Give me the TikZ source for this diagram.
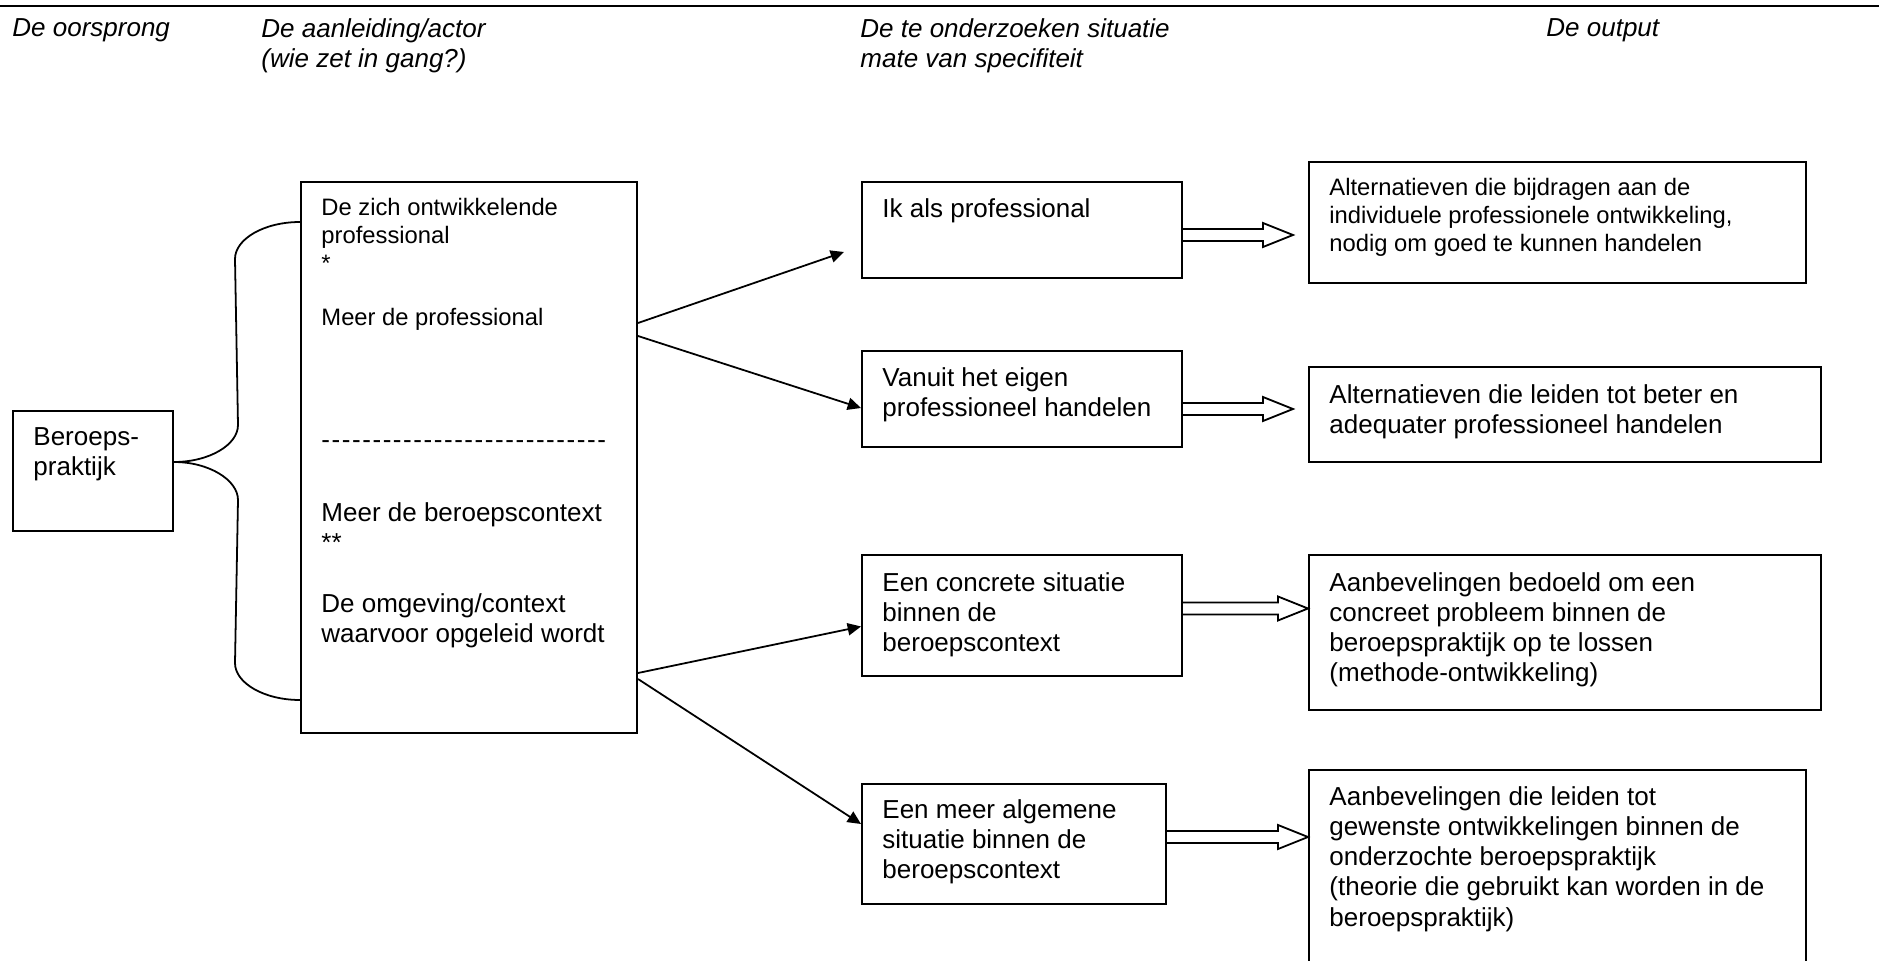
\documentclass[tikz,border=0pt]{standalone}
\usepackage{fontspec}
\setmainfont{Liberation Sans}
\newfontfamily\plainsans[LetterSpace=6]{Liberation Sans}
\usepackage{tikz}
\usetikzlibrary{arrows.meta, positioning, fit, calc}

\newcommand{\bigtxt}{\fontsize{11.7pt}{13.6pt}\selectfont}
\newcommand{\smalltxt}{\fontsize{10.7pt}{12.47pt}\selectfont}

% hollow double arrow from #1 to the x of #2
\newcommand{\dblarrow}[2]{%
  \draw[dbl] let \p1=(#1), \p2=(#2) in
    (\x1,\y1+2.7pt) -- (\x2-13.5pt,\y1+2.7pt) -- (\x2-13.5pt,\y1+5.4pt)
    -- (\x2,\y1) -- (\x2-13.5pt,\y1-5.4pt) -- (\x2-13.5pt,\y1-2.7pt)
    -- (\x1,\y1-2.7pt);}

\begin{document}
\begin{tikzpicture}[
  x=0.45pt, y=-0.45pt,
  box/.style={draw, rectangle, inner sep=0pt, line width=0.9pt},
  txt/.style={anchor=north west, inner sep=0pt, align=left, font=\bigtxt},
  smalltxt/.style={txt, font=\smalltxt},
  head/.style={txt, font=\bigtxt\itshape},
  arr/.style={-{Triangle[length=6pt,width=5.5pt]}, line width=0.8pt},
  dbl/.style={line width=0.8pt, line join=miter},
  brace/.style={line width=0.8pt},
]
  \useasboundingbox (0,0) rectangle (1879,961);
  \draw[line width=0.9pt] (0,6) -- (1879,6);

  \node[head] (h1) at (12,18) {De oorsprong};
  \node[head] (h2) at (261,18) {De aanleiding/actor\\(wie zet in gang?)};
  \node[head] (h3) at (860,18) {De te onderzoeken situatie\\mate van specifiteit};
  \node[head] (h4) at (1546,18) {De output};

  \node[box, fit={(13,411) (173,531)}] (beroeps) {};
  \node[box, fit={(301,182) (637,733)}] (actor) {};
  \node[box, fit={(862,182) (1182,278)}] (sitA) {};
  \node[box, fit={(862,351) (1182,447)}] (sitB) {};
  \node[box, fit={(862,555) (1182,676)}] (sitC) {};
  \node[box, fit={(862,784) (1166,904)}] (sitD) {};
  \node[box, fit={(1309,162) (1806,283)}] (outA) {};
  \node[box, fit={(1309,367) (1821,462)}] (outB) {};
  \node[box, fit={(1309,555) (1821,710)}] (outC) {};
  \node[box, fit={(1309,770) (1806,980)}] (outD) {};

  \node[txt] (beroepsT) at ($(beroeps.north west)+(21,17)$) {Beroeps-\\praktijk};
  \node[smalltxt] (actorT1) at ($(actor.north west)+(21,17)$) {De zich ontwikkelende\\professional\\*};
  \node[smalltxt] (actorT2) at ($(actor.north west)+(21,127)$) {Meer de professional};
  \node[anchor=base west, inner sep=0pt, font=\bigtxt\plainsans] (actorSep)
    at ($(actor.north west)+(21,267)$) {----------------------------};
  \node[txt] (actorT3) at ($(actor.north west)+(21,321)$) {Meer de beroepscontext\\**};
  \node[txt] (actorT4) at ($(actor.north west)+(21,412)$) {De omgeving/context\\waarvoor opgeleid wordt};

  \node[txt] (sitAT) at ($(sitA.north west)+(21,17)$) {Ik als professional};
  \node[txt] (sitBT) at ($(sitB.north west)+(21,17)$) {Vanuit het eigen\\professioneel handelen};
  \node[txt] (sitCT) at ($(sitC.north west)+(21,18)$) {Een concrete situatie\\binnen de\\beroepscontext};
  \node[txt] (sitDT) at ($(sitD.north west)+(21,16)$) {Een meer algemene\\situatie binnen de\\beroepscontext};

  \node[smalltxt] (outAT) at ($(outA.north west)+(21,17)$) {Alternatieven die bijdragen aan de\\individuele professionele ontwikkeling,\\nodig om goed te kunnen handelen};
  \node[txt] (outBT) at ($(outB.north west)+(21,18)$) {Alternatieven die leiden tot beter en\\adequater professioneel handelen};
  \node[txt] (outCT) at ($(outC.north west)+(21,18)$) {Aanbevelingen bedoeld om een\\concreet probleem binnen de\\beroepspraktijk op te lossen\\(methode-ontwikkeling)};
  \node[txt] (outDT) at ($(outD.north west)+(21,17)$) {Aanbevelingen die leiden tot\\gewenste ontwikkelingen binnen de\\onderzochte beroepspraktijk\\(theorie die gebruikt kan worden in de\\beroepspraktijk)};

  \coordinate (bp) at ($(beroeps.east)+(0,-9)$);
  \coordinate (bt) at ($(actor.north west)+(0,41)$);
  \coordinate (bb) at ($(actor.north west)+(0,519)$);
  \draw[brace] (bt) .. controls +(-36,0) and +(0,-20) .. ($(bt)+(-65,37)$)
    -- ($(bp)+(64,-37)$) .. controls +(0,20) and +(35,0) .. (bp);
  \draw[brace] (bp) .. controls +(35,0) and +(0,-20) .. ($(bp)+(64,38)$)
    -- ($(bb)+(-65,-37)$) .. controls +(0,20) and +(-36,0) .. (bb);

  \draw[arr] ($(actor.north east)+(0,142)$) -- ($(sitA.west)+(-17,22)$);
  \draw[arr] ($(actor.north east)+(0,155)$) -- ($(sitB.west)+(0,9)$);
  \draw[arr] ($(actor.north east)+(0,492)$) -- ($(sitC.west)+(0,11)$);
  \draw[arr] ($(actor.north east)+(0,498)$) -- ($(sitD.west)+(0,-20)$);

  \dblarrow{$(sitA.east)+(0,5)$}{$(outA.west)+(-15,0)$}
  \dblarrow{$(sitB.east)+(0,10)$}{$(outB.west)+(-15,0)$}
  \dblarrow{$(sitC.east)+(0,-7)$}{outC.west}
  \dblarrow{$(sitD.east)+(0,-7)$}{outD.west}
\end{tikzpicture}
\end{document}
